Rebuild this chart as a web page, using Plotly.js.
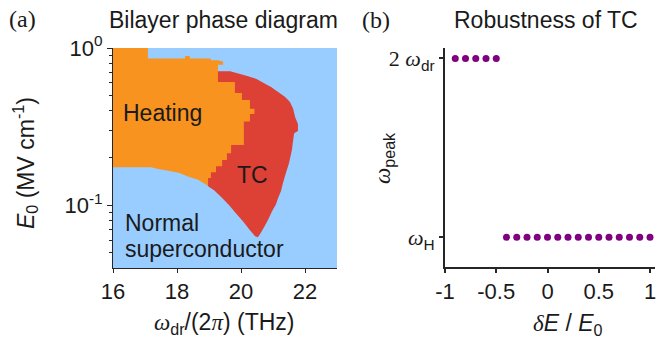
<!DOCTYPE html>
<html><head><meta charset="utf-8">
<script src="https://cdn.plot.ly/plotly-3.0.1.min.js"></script>
<style>html,body{margin:0;padding:0;background:#fff}#chart{width:667px;height:341px}</style>
</head><body><div id="chart"></div>
<script>
// ---------- Panel (a): bilayer phase diagram ----------
const freqTicks = [16, 18, 20, 22];
const freqTickText = ['16', '18', '20', '22'];
const fieldTicks = [0.1, 1];
const fieldTickText = ['10<sup>-1</sup>', '10<sup>0</sup>'];
const fieldMinorTicks = [0.05, 0.06, 0.07, 0.08, 0.09, 0.2, 0.3, 0.4, 0.5, 0.6, 0.7, 0.8, 0.9];

// Heating region boundary (omega_dr/2pi in THz, E0 in MV/cm)
const heatingFreq = [16, 17.09, 17.09, 18.25, 18.25, 18.40, 18.40, 19.06, 19.06, 19.28, 19.44, 19.44, 19.28, 19.28,
  19.81, 19.81, 20.03, 20.03, 20.28, 20.28, 20.42, 20.42, 20.28, 20.28, 20.09, 20.09, 19.69, 19.69, 19.56, 19.56,
  19.41, 19.41, 19.22, 19.22, 19.06, 19.06, 18.97, 18.97, 18.92, 18.66, 18.34, 18.08, 17.77, 17.41, 17.19, 16];
const heatingField = [1, 1, 0.857, 0.857, 0.889, 0.889, 0.857, 0.857, 0.835, 0.835, 0.820, 0.783, 0.783, 0.607,
  0.607, 0.517, 0.517, 0.466, 0.466, 0.410, 0.410, 0.380, 0.380, 0.340, 0.340, 0.241, 0.241, 0.214, 0.214, 0.194,
  0.194, 0.177, 0.177, 0.162, 0.162, 0.149, 0.149, 0.132, 0.135, 0.145, 0.152, 0.160, 0.165, 0.170, 0.174, 0.174];

// Time-crystal (TC) region boundary
const tcFreq = [18.97, 19.28, 19.66, 20.00, 20.22, 20.47, 20.75, 20.94, 21.16, 21.38, 21.53, 21.63, 21.69, 21.78,
  21.78, 21.66, 21.59, 21.50, 21.41, 21.31, 21.25, 21.16, 21.09, 20.97, 20.84, 20.72, 20.63, 20.53, 20.44, 20.28,
  20.06, 19.84, 19.63, 19.38, 19.16, 18.97];
const tcField = [0.711, 0.711, 0.711, 0.680, 0.660, 0.637, 0.593, 0.565, 0.525, 0.488, 0.453, 0.411, 0.364, 0.328,
  0.296, 0.287, 0.224, 0.185, 0.162, 0.138, 0.123, 0.111, 0.101, 0.0916, 0.0802, 0.0724, 0.0673, 0.0625, 0.0635, 0.0693,
  0.0791, 0.0889, 0.100, 0.1125, 0.1246, 0.132];

const regionNames = ['Heating', 'TC', 'Normal', 'superconductor'];
const regionLabelFreq = [17.56, 20.37, 16.31, 16.31];
const regionLabelField = [0.385, 0.155, 0.0768, 0.0525];

// ---------- Panel (b): robustness of TC ----------
const dE_2wdr = [-0.9, -0.8, -0.7, -0.6, -0.5];
const peak_2wdr = [2, 2, 2, 2, 2];
const dE_wH = [-0.4, -0.3, -0.2, -0.1, 0, 0.1, 0.2, 0.3, 0.4, 0.5, 0.6, 0.7, 0.8, 0.9, 1.0];
const peak_wH = [1, 1, 1, 1, 1, 1, 1, 1, 1, 1, 1, 1, 1, 1, 1];
const peakTicks = [1, 2];
const SERIF = 'font-family:Liberation Serif';
const peakTickText = [
  '<span style="' + SERIF + '"><i>ω</i></span><sub>H</sub>',
  '<span style="' + SERIF + '">2 <i>ω</i></span><sub>dr</sub>'
];
const dETicks = [-1, -0.5, 0, 0.5, 1];
const dETickText = ['-1', '-0.5', '0', '0.5', '1'];

// ---------- colours & layout helpers ----------
const C_NORMAL = '#99CCFF', C_HEAT = '#F7931E', C_TC = '#DD4135', C_DOT = '#800080';
const AX = '#262626';
const W = 667, H = 341;
const px = x => x / W, py = y => 1 - y / H;
const SANS = 'Liberation Sans, Arial, sans-serif';

const traces = [
  {x: tcFreq, y: tcField, xaxis: 'x', yaxis: 'y', type: 'scatter', mode: 'none', fill: 'toself',
   fillcolor: C_TC, hoverinfo: 'skip', showlegend: false},
  {x: heatingFreq, y: heatingField, xaxis: 'x', yaxis: 'y', type: 'scatter', mode: 'none', fill: 'toself',
   fillcolor: C_HEAT, hoverinfo: 'skip', showlegend: false},
  {x: dE_2wdr, y: peak_2wdr, xaxis: 'x2', yaxis: 'y2', type: 'scatter', mode: 'markers',
   marker: {color: C_DOT, size: 7}, showlegend: false},
  {x: dE_wH, y: peak_wH, xaxis: 'x2', yaxis: 'y2', type: 'scatter', mode: 'markers',
   marker: {color: C_DOT, size: 7}, showlegend: false}
];

const tickFont = {family: SANS, size: 22, color: '#1a1a1a'};
const annFont = {family: SANS, size: 23, color: '#1a1a1a'};

const annotations = [];
regionNames.forEach((t, i) => annotations.push({
  text: t, x: regionLabelFreq[i], y: Math.log10(regionLabelField[i]), xref: 'x', yref: 'y',
  xanchor: i >= 2 ? 'left' : 'center', yanchor: 'middle', showarrow: false, font: annFont
}));
function paperText(text, x, y, extra) {
  annotations.push(Object.assign({text, x: px(x), y: py(y), xref: 'paper', yref: 'paper',
    xanchor: 'center', yanchor: 'middle', showarrow: false, font: annFont}, extra || {}));
}
paperText('(a)', 22, 19, {font: {family: 'Liberation Serif, serif', size: 24, color: '#1a1a1a'}});
paperText('Bilayer phase diagram', 223, 20);
paperText('(b)', 376, 20, {font: {family: 'Liberation Serif, serif', size: 24, color: '#1a1a1a'}});
paperText('Robustness of TC', 546, 20);
paperText('<span style="' + SERIF + '"><i>ω</i></span><sub>dr</sub>/(2<span style="' + SERIF + '"><i>π</i></span>) (THz)', 224, 323);
paperText('<i>E</i><sub>0</sub> (MV cm<sup>-1</sup>)', 25, 163, {textangle: -90});
paperText('<span style="' + SERIF + '"><i>ω</i></span><sub>peak</sub>', 384, 158, {textangle: -90});
paperText('<span style="' + SERIF + '"><i>δ</i></span><i>E</i> / <i>E</i><sub>0</sub>', 568, 324);

const layout = {
  width: W, height: H,
  margin: {l: 0, r: 0, t: 0, b: 0},
  paper_bgcolor: '#ffffff', plot_bgcolor: 'rgba(0,0,0,0)',
  font: {family: SANS, color: '#1a1a1a'},
  showlegend: false,
  xaxis: {domain: [px(113), px(337)], range: [16, 23], tickmode: 'array', tickvals: freqTicks,
    ticktext: freqTickText, ticks: 'outside', ticklen: 4, tickwidth: 1, tickcolor: AX,
    showline: true, linecolor: AX, linewidth: 1, showgrid: false, zeroline: false, tickfont: tickFont,
    anchor: 'y'},
  yaxis: {domain: [py(268), py(48)], type: 'log', range: [-1.4, 0], tickmode: 'array', tickvals: fieldTicks,
    ticktext: fieldTickText, ticks: 'outside', ticklen: 5, tickwidth: 1, tickcolor: AX,
    minor: {tickmode: 'array', tickvals: fieldMinorTicks, ticks: 'outside', ticklen: 3, tickwidth: 1, tickcolor: AX, showgrid: false},
    showline: true, linecolor: AX, linewidth: 1, showgrid: false, zeroline: false, tickfont: tickFont,
    anchor: 'x'},
  xaxis2: {domain: [px(445), px(655)], range: [-1, 1.0488], tickmode: 'array', tickvals: dETicks,
    ticktext: dETickText, ticks: 'outside', ticklen: 4, tickwidth: 2, tickcolor: AX,
    showline: true, linecolor: AX, linewidth: 2, showgrid: false, zeroline: false, tickfont: tickFont,
    anchor: 'y2'},
  yaxis2: {domain: [py(267), py(48)], range: [0.834, 2.058], tickmode: 'array', tickvals: peakTicks,
    ticktext: peakTickText, ticks: 'outside', ticklen: 4, tickwidth: 2, tickcolor: AX,
    showline: true, linecolor: AX, linewidth: 2, showgrid: false, zeroline: false, tickfont: tickFont,
    anchor: 'x2'},
  shapes: [{type: 'rect', xref: 'x domain', yref: 'y domain', x0: 0, x1: 1, y0: 0, y1: 1,
    fillcolor: C_NORMAL, line: {width: 0}, layer: 'below'}],
  annotations
};

Plotly.newPlot('chart', traces, layout, {staticPlot: true, displayModeBar: false});
</script></body></html>
